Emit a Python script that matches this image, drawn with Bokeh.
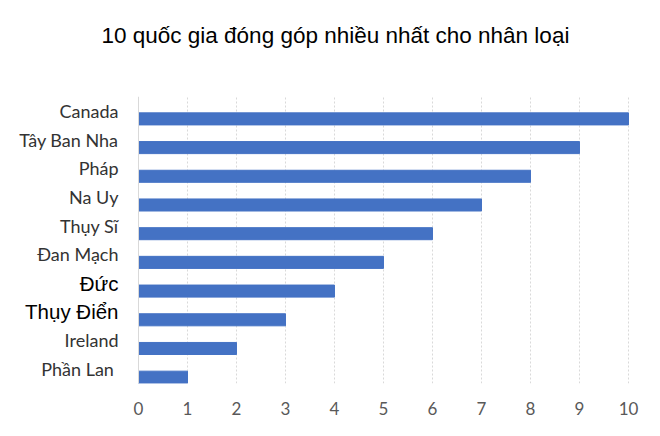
from bokeh.plotting import figure
from bokeh.models import FixedTicker, Range1d, ColumnDataSource, Span, Title
from bokeh.embed import file_html
from bokeh.resources import INLINE

countries = ["Canada", "Tây Ban Nha", "Pháp", "Na Uy", "Thụy Sĩ",
             "Đan Mạch", "Đức", "Thụy Điển", "Ireland", "Phần Lan "]
values = [10, 9, 8, 7, 6, 5, 4, 3, 2, 1]
special = ["Đức", "Thụy Điển"]
x_ticks = [0, 1, 2, 3, 4, 5, 6, 7, 8, 9, 10]
grid_ticks = [1, 2, 3, 4, 5, 6, 7, 8, 9, 10]
title_text = "10 quốc gia đóng góp nhiều nhất cho nhân loại"

W, H = 644, 420
left_px, right_px = 138, 628          # pixel position of x=0 and x=10
ppu = (right_px - left_px) / 10.0

n = len(countries)
slot = [n - 1 - i + 0.5 for i in range(n)]       # category centers
bar_y = [s - 0.28 for s in slot]                  # bars sit low in the slot

bars = ColumnDataSource(dict(y=bar_y, right=values))
labels = ColumnDataSource(dict(
    y=slot, text=countries,
    font=["Liberation Sans" if c in special else "Lato" for c in countries],
    size=["20.5px" if c in special else "18px" for c in countries],
    color=["#000000" if c in special else "#333333" for c in countries],
))

p = figure(width=W, height=H, output_backend="svg", toolbar_location=None,
           title=None,
           x_range=Range1d(-left_px / ppu, 10 + (W - right_px) / ppu),
           y_range=Range1d(0, n),
           min_border_left=0, min_border_right=0,
           min_border_top=96, min_border_bottom=37)

p.hbar(y="y", right="right", left=0, height=0.42, source=bars,
       fill_color="#4472C4", line_color="#4472C4")

p.text(x=0, y="y", text="text", source=labels, x_offset=-20,
       text_align="right", text_baseline="middle",
       text_font="font", text_font_size="size", text_color="color")

p.add_layout(Span(location=0, dimension="height", line_color="#d9d9d9", line_width=1))

p.outline_line_color = None
p.border_fill_color = "white"
p.background_fill_color = "white"

# x axis
p.xaxis.ticker = FixedTicker(ticks=x_ticks)
p.xaxis.axis_line_color = None
p.xaxis.major_tick_line_color = None
p.xaxis.minor_tick_line_color = None
p.xaxis.major_label_text_font = "Lato"
p.xaxis.major_label_text_font_size = "17px"
p.xaxis.major_label_text_color = "#595959"
p.xaxis.major_label_standoff = 12

p.yaxis.visible = False

p.xgrid.ticker = FixedTicker(ticks=grid_ticks)
p.xgrid.grid_line_color = "#d9d9d9"
p.xgrid.grid_line_dash = "2 2"
p.xgrid.grid_line_width = 1
p.ygrid.grid_line_color = None

# spacer between title and frame (closest to frame)
p.add_layout(Title(text=" ", text_font_size="10px", standoff=26), "above")
p.add_layout(Title(text=title_text, text_font="Liberation Sans",
                   text_font_size="22.5px", text_font_style="normal",
                   text_color="#000000", align="left", offset=101,
                   standoff=20, vertical_align="bottom"), "above")

open("out.html", "w").write(file_html(p, INLINE))
